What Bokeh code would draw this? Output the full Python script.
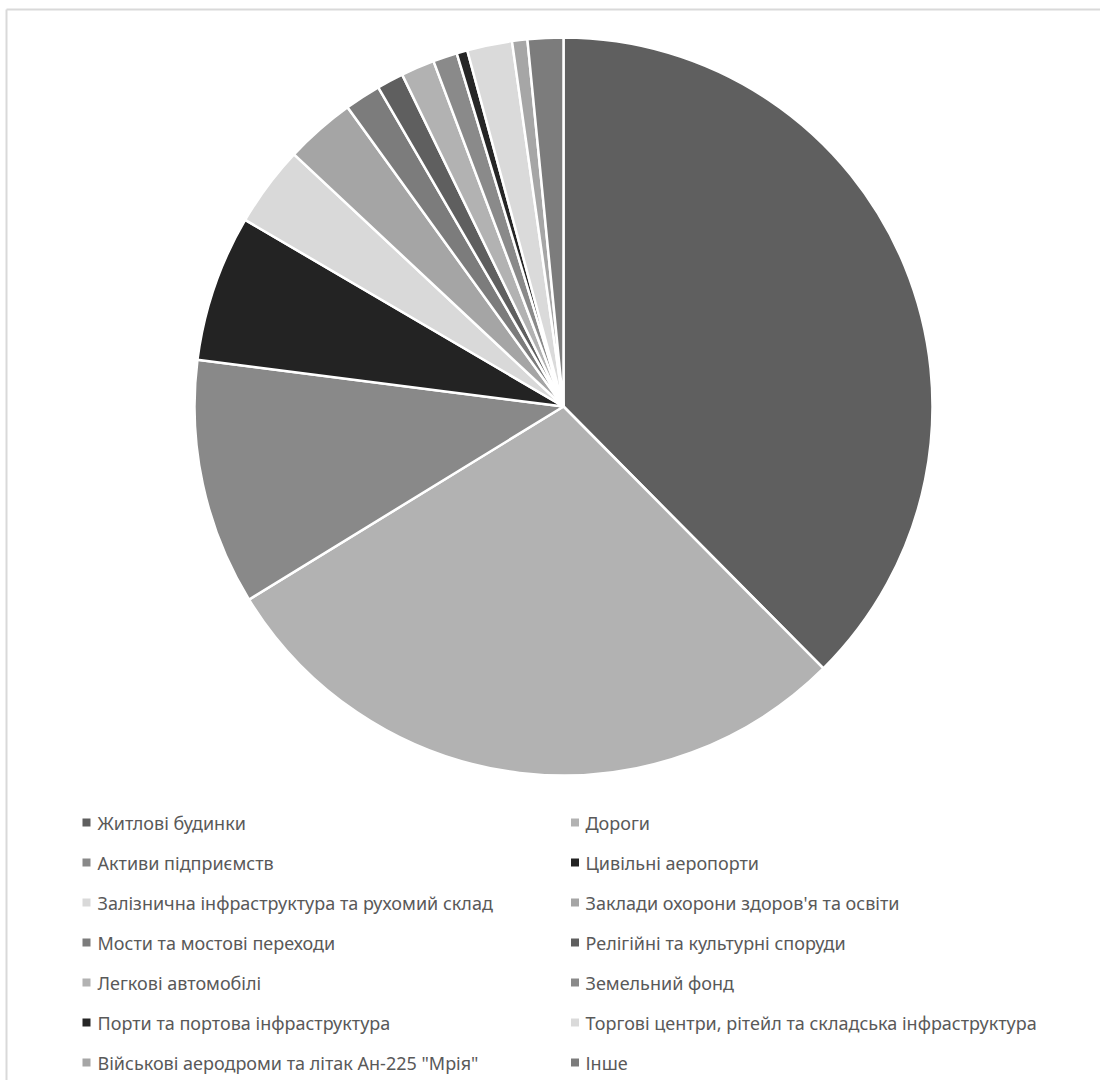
import numpy as np
from bokeh.plotting import figure
from bokeh.models import Range1d, ColumnDataSource
from bokeh.core.properties import value
from bokeh.embed import file_html
from bokeh.resources import INLINE

categories = [
    "Житлові будинки",
    "Дороги",
    "Активи підприємств",
    "Цивільні аеропорти",
    "Залізнична інфраструктура та рухомий склад",
    "Заклади охорони здоров'я та освіти",
    "Мости та мостові переходи",
    "Релігійні та культурні споруди",
    "Легкові автомобілі",
    "Земельний фонд",
    "Порти та портова інфраструктура",
    "Торгові центри, рітейл та складська інфраструктура",
    " Військові аеродроми та літак Ан-225 \"Мрія\"",
    "Інше",
]
shares = [37.56, 28.67, 10.78, 6.42, 3.53, 3.08, 1.58, 1.17, 1.47, 1.06, 0.47, 1.97, 0.67, 1.56]
colors = ["#5f5f5f", "#b2b2b2", "#898989", "#232323", "#d9d9d9", "#a5a5a5", "#7c7c7c",
          "#5f5f5f", "#b2b2b2", "#8a8a8a", "#262626", "#dadada", "#a6a6a6", "#7c7c7c"]

W, H = 1100, 1080
p = figure(width=W, height=H, x_range=Range1d(0, W), y_range=Range1d(0, H),
           min_border=0, output_backend="svg", toolbar_location=None)
p.axis.visible = False
p.grid.visible = False
p.outline_line_color = None
p.background_fill_color = "white"

# pie geometry
cx, cy, r = 563, H - 406, 369
vals = np.array(shares, dtype=float)
frac = vals / vals.sum()
cum = np.concatenate([[0], np.cumsum(frac)]) * 2 * np.pi
theta1 = cum[:-1]
theta2 = cum[1:]
src = ColumnDataSource(dict(
    start=np.pi / 2 - theta2,
    end=np.pi / 2 - theta1,
    color=colors,
    name=categories,
))
p.wedge(x=cx, y=cy, radius=r, start_angle="start", end_angle="end",
        fill_color="color", line_color="white", line_width=2.5, source=src)

# legend
n = len(categories)
col_x_marker = [86, 574.5]
col_x_text = [97, 585]
row_y0 = H - 822
row_dy = 40
mx, my, tx, ty = [], [], [], []
for i in range(n):
    c = i % 2
    row = i // 2
    mx.append(col_x_marker[c])
    my.append(row_y0 - row * row_dy)
    tx.append(col_x_text[c])
    ty.append(row_y0 - row * row_dy)
p.scatter(x=mx, y=my, marker="square", size=8, fill_color=colors, line_color=None)
p.text(x=tx, y=ty, text=categories, text_font=value("Noto Sans"),
       text_font_size="18px", text_color="#595959", text_baseline="middle",
       text_align="left")

# chart border (top and left, visible part)
p.line(x=[6, W], y=[H - 9, H - 9], line_color="#d9d9d9", line_width=2)
p.line(x=[6, 6], y=[0, H - 9], line_color="#d9d9d9", line_width=2)

open("out.html", "w").write(file_html(p, INLINE))
